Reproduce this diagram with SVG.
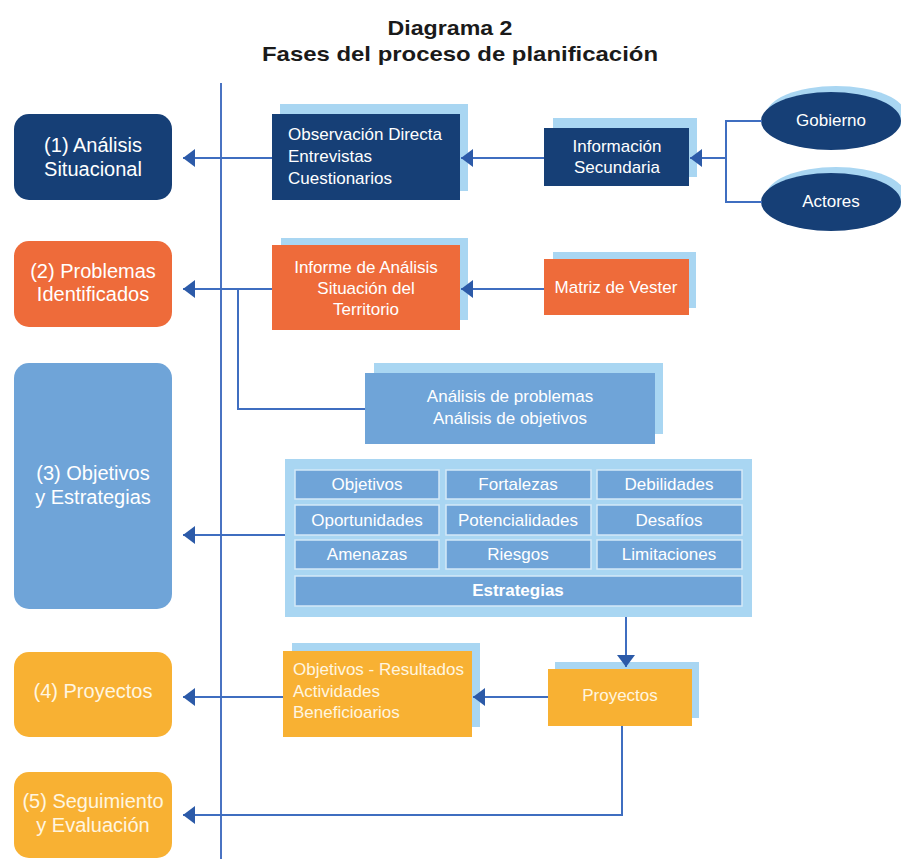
<svg xmlns="http://www.w3.org/2000/svg" width="901" height="859" viewBox="0 0 901 859">
<defs>
<style>
.title{font-family:"Liberation Sans",Arial,sans-serif;font-weight:bold;font-size:21px;fill:#1a1a1a;text-anchor:middle}
.lt{font-family:"Liberation Sans",Arial,sans-serif;font-size:20px;fill:#ffffff;text-anchor:middle}
.bt{font-family:"Liberation Sans",Arial,sans-serif;font-size:17px;fill:#ffffff}
.c{text-anchor:middle}
.y{fill:#fff6e0}
.navy{fill:#163f76}
.orange{fill:#ee6b3a}
.blue{fill:#6fa4d8}
.yellow{fill:#f8b133}
.shadow{fill:#a9d6f2}
.cell{fill:#6fa4d8;stroke:#d4e9f8;stroke-width:1.5}
.ln{fill:none;stroke:#3f6ec0;stroke-width:2}
</style>
<marker id="ah" markerUnits="userSpaceOnUse" markerWidth="13" markerHeight="18" refX="12" refY="9" orient="auto">
<path d="M0,0 L12,9 L0,18 z" fill="#2c5aa8"/>
</marker>
</defs>
<rect width="901" height="859" fill="#ffffff"/>
<g id="title">
<text class="title" x="450" y="35" textLength="125" lengthAdjust="spacingAndGlyphs">Diagrama 2</text>
<text class="title" x="460" y="61" textLength="396" lengthAdjust="spacingAndGlyphs">Fases del proceso de planificación</text>
</g>
<g id="phase1"><rect class="navy" x="14" y="114" width="158" height="86" rx="15"/><text class="lt" x="93" y="152">(1) Análisis</text><text class="lt" x="93" y="176">Situacional</text></g>
<g id="phase2"><rect class="orange" x="14" y="241" width="158" height="86" rx="15"/><text class="lt" x="93" y="278">(2) Problemas</text><text class="lt" x="93" y="301">Identificados</text></g>
<g id="phase3"><rect class="blue" x="14" y="363" width="158" height="246" rx="15"/><text class="lt" x="93" y="480">(3) Objetivos</text><text class="lt" x="93" y="504">y Estrategias</text></g>
<g id="phase4"><rect class="yellow" x="14" y="652" width="158" height="85" rx="15"/><text class="lt y" x="93" y="698">(4) Proyectos</text></g>
<g id="phase5"><rect class="yellow" x="14" y="772" width="158" height="86" rx="15"/><text class="lt y" x="93" y="808">(5) Seguimiento</text><text class="lt y" x="93" y="832">y Evaluación</text></g>
<g id="observacion"><rect class="shadow" x="280" y="104" width="188" height="87"/><rect class="navy" x="272" y="114" width="188" height="86"/><text class="bt" x="288" y="140">Observación Directa</text><text class="bt" x="288" y="162">Entrevistas</text><text class="bt" x="288" y="184">Cuestionarios</text></g>
<g id="informacion"><rect class="shadow" x="553" y="118" width="144" height="59"/><rect class="navy" x="544" y="128" width="145" height="58"/><text class="bt c" x="617" y="152">Información</text><text class="bt c" x="617" y="173">Secundaria</text></g>
<g id="gobierno"><ellipse class="shadow" cx="836" cy="115" rx="70" ry="29"/><ellipse class="navy" cx="831" cy="121" rx="70" ry="29"/><text class="bt c" x="831" y="126">Gobierno</text></g>
<g id="actores"><ellipse class="shadow" cx="836" cy="196" rx="70" ry="29"/><ellipse class="navy" cx="831" cy="202" rx="70" ry="29"/><text class="bt c" x="831" y="207">Actores</text></g>
<g id="informe"><rect class="shadow" x="281" y="238" width="187" height="82"/><rect class="orange" x="272" y="245" width="188" height="85"/><text class="bt c" x="366" y="273">Informe de Análisis</text><text class="bt c" x="366" y="294">Situación del</text><text class="bt c" x="366" y="315">Territorio</text></g>
<g id="matriz"><rect class="shadow" x="553" y="252" width="143" height="56"/><rect class="orange" x="544" y="259" width="145" height="56"/><text class="bt c" x="616" y="293">Matriz de Vester</text></g>
<g id="analisis"><rect class="shadow" x="374" y="363" width="289" height="71"/><rect class="blue" x="365" y="373" width="290" height="71"/><text class="bt c" x="510" y="402">Análisis de problemas</text><text class="bt c" x="510" y="424">Análisis de objetivos</text></g>
<g id="matriz-foda">
<rect class="shadow" x="285" y="459" width="467" height="158"/>
<rect class="cell" x="295" y="470" width="144" height="29"/><text class="bt c" x="367" y="490">Objetivos</text>
<rect class="cell" x="446" y="470" width="145" height="29"/><text class="bt c" x="518" y="490">Fortalezas</text>
<rect class="cell" x="597" y="470" width="145" height="29"/><text class="bt c" x="669" y="490">Debilidades</text>
<rect class="cell" x="295" y="505" width="144" height="30"/><text class="bt c" x="367" y="526">Oportunidades</text>
<rect class="cell" x="446" y="505" width="145" height="30"/><text class="bt c" x="518" y="526">Potencialidades</text>
<rect class="cell" x="597" y="505" width="145" height="30"/><text class="bt c" x="669" y="526">Desafíos</text>
<rect class="cell" x="295" y="540" width="144" height="29"/><text class="bt c" x="367" y="560">Amenazas</text>
<rect class="cell" x="446" y="540" width="145" height="29"/><text class="bt c" x="518" y="560">Riesgos</text>
<rect class="cell" x="597" y="540" width="145" height="29"/><text class="bt c" x="669" y="560">Limitaciones</text>
<rect class="cell" x="295" y="576" width="447" height="30"/><text class="bt c" x="518" y="596" font-weight="bold">Estrategias</text>
</g>
<g id="objetivos-resultados"><rect class="shadow" x="292" y="643" width="188" height="84"/><rect class="yellow" x="283" y="651" width="189" height="86"/><text class="bt y" x="293" y="675">Objetivos - Resultados</text><text class="bt y" x="293" y="697">Actividades</text><text class="bt y" x="293" y="718">Beneficioarios</text></g>
<g id="proyectos"><rect class="shadow" x="555" y="662" width="144" height="56"/><rect class="yellow" x="548" y="669" width="144" height="57"/><text class="bt c y" x="620" y="701">Proyectos</text></g>
<g id="connectors">
<path d="M221,83 V859" stroke="#4a73c2" stroke-width="2" fill="none"/>
<path class="ln" d="M272,158 H183" marker-end="url(#ah)"/>
<path class="ln" d="M544,158 H461" marker-end="url(#ah)"/>
<path class="ln" d="M762,121 H726 V202 H762"/>
<path class="ln" d="M726,158 H690" marker-end="url(#ah)"/>
<path class="ln" d="M272,289 H183" marker-end="url(#ah)"/>
<path class="ln" d="M544,289 H461" marker-end="url(#ah)"/>
<path class="ln" d="M238,289 V409 H365"/>
<path class="ln" d="M285,535 H183" marker-end="url(#ah)"/>
<path class="ln" d="M626,617 V667" marker-end="url(#ah)"/>
<path class="ln" d="M548,697 H473" marker-end="url(#ah)"/>
<path class="ln" d="M283,697 H183" marker-end="url(#ah)"/>
<path class="ln" d="M622,726 V815 H183" marker-end="url(#ah)"/>
</g>
</svg>
